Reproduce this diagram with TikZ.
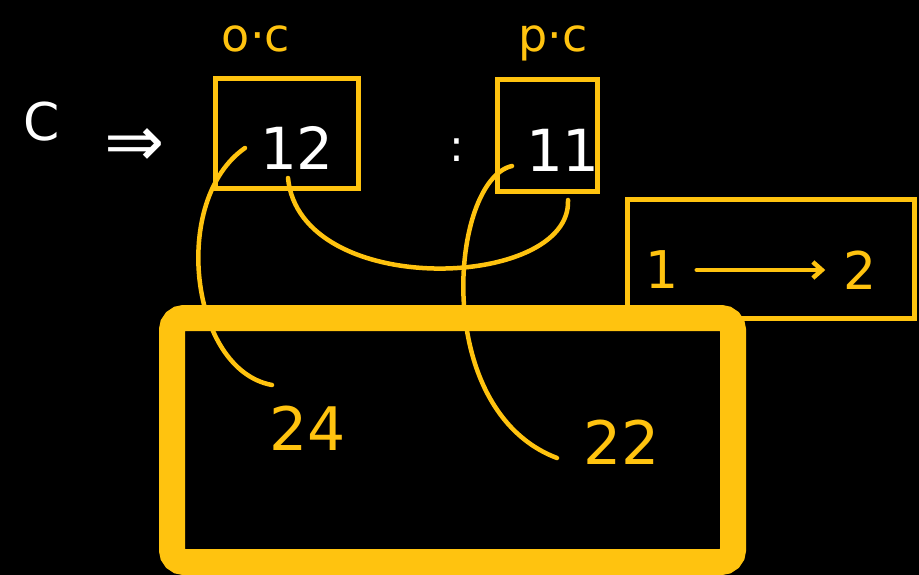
\documentclass[tikz,border=0pt]{standalone}
\usepackage{fontspec}
\setmainfont{DejaVu Sans}
\usetikzlibrary{arrows.meta}
\definecolor{ink}{RGB}{255,195,15}
\tikzset{
  box/.style={draw=ink, line width=5pt, inner sep=0pt},
  wtext/.style={text=white, inner sep=0pt},
  ytext/.style={text=ink, inner sep=0pt},
  link/.style={draw=ink, line width=4.5pt, line cap=round},
  frame/.style={draw=ink, line width=26pt, rounded corners=12pt}
}
\begin{document}
\begin{tikzpicture}[x=1pt,y=-1pt]
\fill[black] (0,0) rectangle (919,575);
\useasboundingbox (0,0) rectangle (919,575);

% left text
\node[wtext, font=\fontsize{52}{52}\selectfont] (c) at (42,122) {C};
\node[wtext, font=\fontsize{72}{72}\selectfont] (imp) at (135,148) {⇒};
\node[wtext, font=\fontsize{44}{44}\selectfont] (colon) at (457,150) {:};

% boxes
\node[box, minimum width=143pt, minimum height=110pt] (oc) at (287,134) {};
\node[wtext, font=\fontsize{58}{58}\selectfont] (v12) at (297,148) {12};
\node[ytext, font=\fontsize{46}{46}\selectfont, anchor=base] (oclab) at (256,52) {o·c};

\node[box, minimum width=100pt, minimum height=112pt] (pc) at (547,136) {};
\node[wtext, font=\fontsize{58}{58}\selectfont] (v11) at (563,150) {11};
\node[ytext, font=\fontsize{46}{46}\selectfont, anchor=base] (pclab) at (553,52) {p·c};

\node[box, minimum width=287pt, minimum height=118pt] (map) at (771,259) {};
\node[ytext, font=\fontsize{52}{52}\selectfont] (one) at (662,270) {1};
\node[ytext, font=\fontsize{52}{52}\selectfont] (two) at (860,270) {2};
\draw[link, -{Straight Barb[length=9pt,width=16pt]}] ([xshift=18pt]one.east) -- ([xshift=-18pt]two.west);

% labels in frame
\node[ytext, font=\fontsize{60}{60}\selectfont] (l24) at (308,428) {24};
\node[ytext, font=\fontsize{60}{60}\selectfont] (l22) at (622,442) {22};

% connectors
\coordinate (c1s) at (245,148);
\coordinate (c1e) at (272,385);
\coordinate (c2s) at (288,178);
\coordinate (c2e) at (568,200);
\coordinate (c3s) at (512,166);
\coordinate (c3e) at (557,458);
\path[link] (c1s) .. controls (170,200) and (190,370) .. (c1e);
\path[link] (c2s) .. controls (300,300) and (572,290) .. (c2e);
\path[link] (c3s) .. controls (450,180) and (430,410) .. (c3e);

% thick frame
\node[frame, minimum width=561pt, minimum height=244pt] (mem) at (452.5,440) {};
\end{tikzpicture}
\end{document}
